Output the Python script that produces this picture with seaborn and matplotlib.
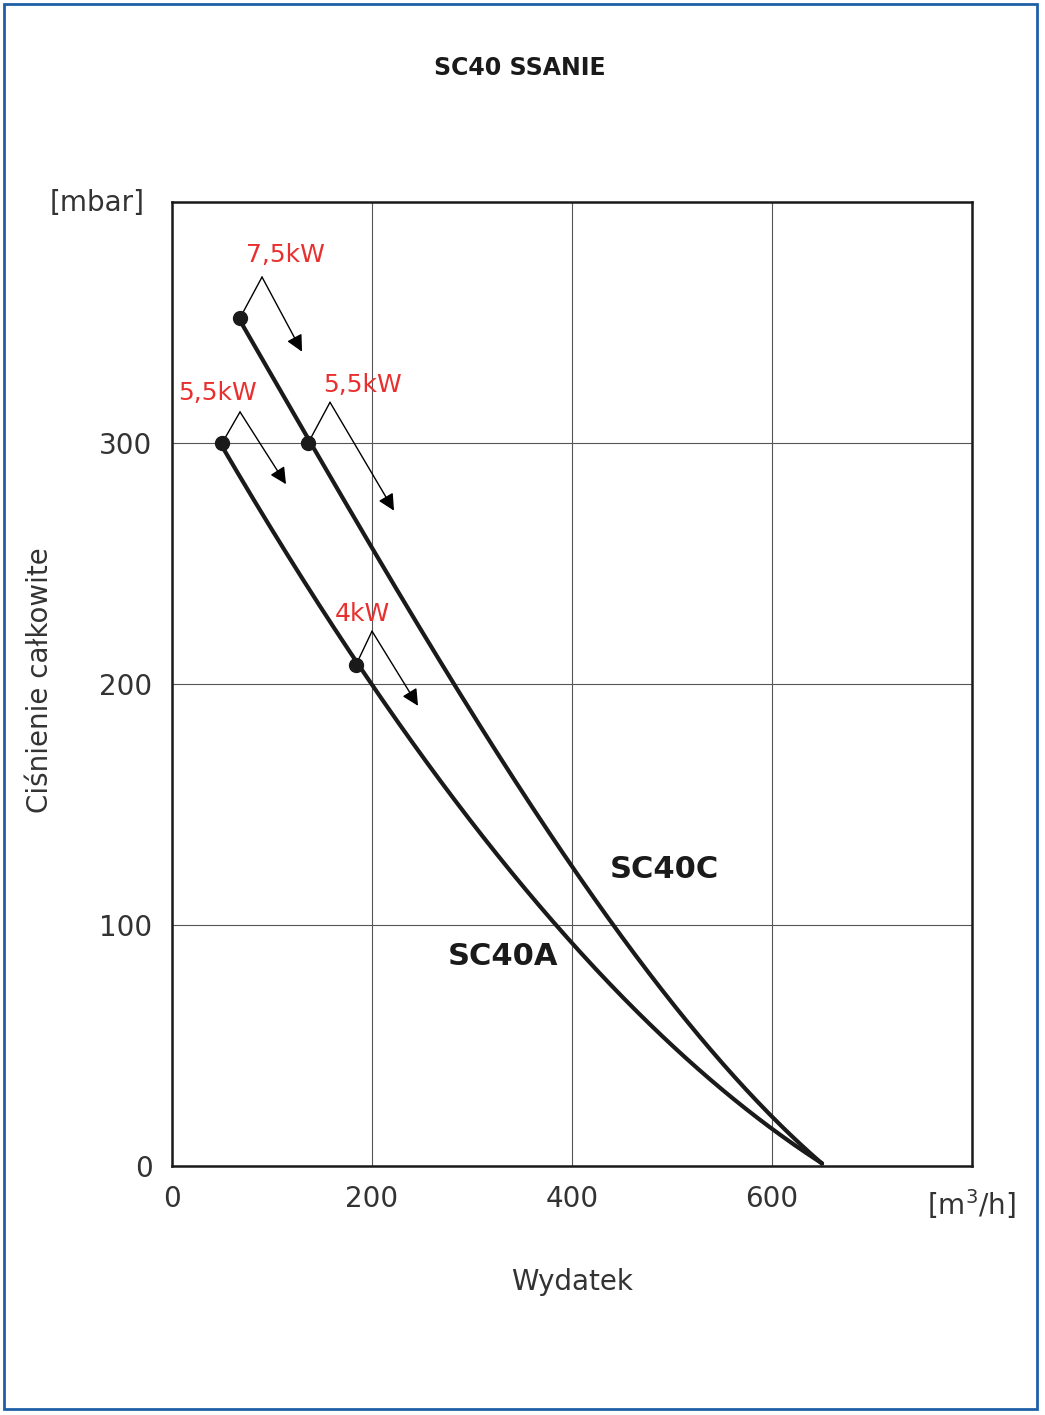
import numpy as np
import matplotlib
matplotlib.use("Agg")
import matplotlib.pyplot as plt
import seaborn as sns
from matplotlib.patches import Rectangle

# curve points
sc40c_x = [68, 136, 200, 278, 398, 440, 528, 650]
sc40c_y = [352, 300, 258, 200, 131, 100, 50, 2]
sc40a_x = [50, 100, 184, 298, 391, 518, 650]
sc40a_y = [300, 263, 208, 144, 100, 40, 2]

dot_x = [68, 136, 50, 184]
dot_y = [352, 300, 300, 208]

power_labels = ["7,5kW", "5,5kW", "5,5kW", "4kW"]
label_x = [113, 190, 45, 190]
label_y = [378, 324, 321, 229]
peak_x = [90, 158, 68, 200]
peak_y = [369, 317, 313, 222]
arrow_x = [130, 222, 114, 246]
arrow_y = [338, 272, 283, 191]

sns.set_theme(style="white")
plt.rcParams['font.family'] = ['DejaVu Sans']

fig = plt.figure(figsize=(10.45, 14.15), dpi=100)
ax = fig.add_axes([0.1646, 0.176, 0.7656, 0.681])

for xs, ys in [(sc40c_x, sc40c_y), (sc40a_x, sc40a_y)]:
    coef = np.polyfit(xs, ys, 3)
    xx = np.linspace(xs[0], xs[-1], 300)
    sns.lineplot(x=xx, y=np.polyval(coef, xx), ax=ax, color="#1a1a1a", lw=3, sort=False)

ax.plot(dot_x, dot_y, "o", color="#1a1a1a", markersize=10, zorder=5)

for i, lab in enumerate(power_labels):
    ax.plot([dot_x[i], peak_x[i]], [dot_y[i], peak_y[i]], color="black", lw=1)
    ax.annotate("", xy=(arrow_x[i], arrow_y[i]), xytext=(peak_x[i], peak_y[i]),
                arrowprops=dict(arrowstyle="-|>", color="black", lw=1,
                                mutation_scale=25, shrinkA=0, shrinkB=0))
    ax.text(label_x[i], label_y[i], lab, color="#e8302e", fontsize=18,
            ha="center", va="center")

ax.text(492, 123, "SC40C", fontsize=22, fontweight="bold", color="#1a1a1a",
        ha="center", va="center")
ax.text(331, 87, "SC40A", fontsize=22, fontweight="bold", color="#1a1a1a",
        ha="center", va="center")

ax.set_xlim(0, 800)
ax.set_ylim(0, 400)
ax.set_xticks([0, 200, 400, 600, 800])
ax.set_xticklabels(["0", "200", "400", "600", ""])
ax.set_yticks([0, 100, 200, 300, 400])
ax.set_yticklabels(["0", "100", "200", "300", ""])
ax.tick_params(axis="both", labelsize=20, colors="#333333", length=0, pad=14)
ax.grid(True, color="#555555", lw=0.8)
for s in ax.spines.values():
    s.set_color("#1a1a1a")
    s.set_linewidth(1.8)

fig.text(0.0928, 1 - 203 / 1415, "[mbar]", fontsize=20, color="#333333",
         ha="center", va="center")
fig.text(0.930, 1 - 1204 / 1415, "[m$^3$/h]", fontsize=20, color="#333333",
         ha="center", va="center")
fig.text(0.547, 1 - 1282 / 1415, "Wydatek", fontsize=20, color="#333333",
         ha="center", va="center")
fig.text(0.038, 1 - 680 / 1415, "Ciśnienie całkowite", fontsize=20, color="#333333",
         ha="center", va="center", rotation=90)
fig.text(0.497, 1 - 68 / 1415, "SC40 SSANIE", fontsize=17, fontweight="bold",
         color="#1a1a1a", ha="center", va="center")

fig.patches.append(Rectangle((0.004, 0.004), 0.988, 0.993, transform=fig.transFigure,
                             fill=False, edgecolor="#1f5fa8", lw=2))

fig.savefig("out.png", dpi=100)
